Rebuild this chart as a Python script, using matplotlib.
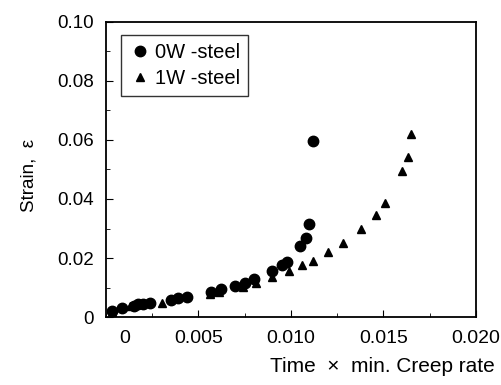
import matplotlib
matplotlib.use('Agg')
import matplotlib.pyplot as plt
from matplotlib.ticker import MultipleLocator

plt.rcParams['font.family'] = ['Liberation Sans', 'DejaVu Sans']

# 0W-steel (circles)
x_0w = [0.0003, 0.00085, 0.0015, 0.00175, 0.0020, 0.0024, 0.0035, 0.0039, 0.0044,
        0.0057, 0.0062, 0.0070, 0.0075, 0.0080, 0.0090, 0.0095, 0.0098,
        0.0105, 0.0108, 0.0110, 0.0112]
y_0w = [0.0020, 0.0032, 0.0037, 0.0043, 0.0044, 0.0049, 0.0058, 0.0063, 0.0067,
        0.0086, 0.0094, 0.0105, 0.0114, 0.0128, 0.0157, 0.0176, 0.0188,
        0.0241, 0.0269, 0.0314, 0.0598]

# 1W-steel (triangles)
x_1w = [0.0003, 0.0013, 0.0030, 0.0056, 0.0061, 0.0074, 0.0081, 0.0090, 0.0099,
        0.0106, 0.0112, 0.0120, 0.0128, 0.0138, 0.0146, 0.0151, 0.0160,
        0.0163, 0.0165]
y_1w = [0.0018, 0.0036, 0.0046, 0.0078, 0.0086, 0.0103, 0.0114, 0.0137, 0.0156,
        0.0176, 0.0191, 0.0219, 0.0252, 0.0298, 0.0347, 0.0387, 0.0496,
        0.0543, 0.0619]

# the "0" of the time axis is printed a little right of the frame corner
x_ticks = [0.001, 0.005, 0.010, 0.015, 0.020]
x_tick_labels = ['0', '0.005', '0.010', '0.015', '0.020']
y_ticks = [0, 0.02, 0.04, 0.06, 0.08, 0.10]
y_tick_labels = ['0', '0.02', '0.04', '0.06', '0.08', '0.10']

fig = plt.figure(figsize=(5.01, 3.85), dpi=100)
ax = fig.add_axes([0.2116, 0.1766, 0.7384, 0.7663])

ax.plot(x_1w, y_1w, '^', color='black', markersize=6, label='1W -steel', zorder=2)
ax.plot(x_0w, y_0w, 'o', color='black', markersize=7.5, label='0W -steel', zorder=3)

ax.set_xlim(0, 0.020)
ax.set_ylim(0, 0.10)

ax.set_xticks(x_ticks)
ax.set_xticklabels(x_tick_labels)
ax.xaxis.get_major_ticks()[0].tick1line.set_visible(False)
ax.xaxis.set_minor_locator(MultipleLocator(0.0025))
ax.set_yticks(y_ticks)
ax.set_yticklabels(y_tick_labels)
ax.yaxis.set_minor_locator(MultipleLocator(0.01))
ax.tick_params(which='both', direction='in', top=False, right=False)
ax.tick_params(axis='x', labelsize=14, pad=9)
ax.tick_params(axis='y', labelsize=13.5, pad=9)
ax.tick_params(which='major', length=5)
ax.tick_params(which='minor', length=3)

for s in ax.spines.values():
    s.set_linewidth(1.3)

ax.set_xlabel('Time  \u00d7  min. Creep rate', fontsize=15, ha='right')
ax.xaxis.set_label_coords(1.05, -0.135)
ax.set_ylabel('Strain,  \u03b5', fontsize=13.5)
ax.yaxis.set_label_coords(-0.185, 0.48)

handles, labels = ax.get_legend_handles_labels()
leg = ax.legend(handles[::-1], labels[::-1], loc='upper left',
                bbox_to_anchor=(0.04, 0.955), fontsize=14.5, frameon=True,
                fancybox=False, edgecolor='black', handletextpad=0.2,
                handlelength=1.1, borderpad=0.4, labelspacing=0.35,
                borderaxespad=0)
leg.get_frame().set_linewidth(1.0)

fig.savefig('out.png', dpi=100)
